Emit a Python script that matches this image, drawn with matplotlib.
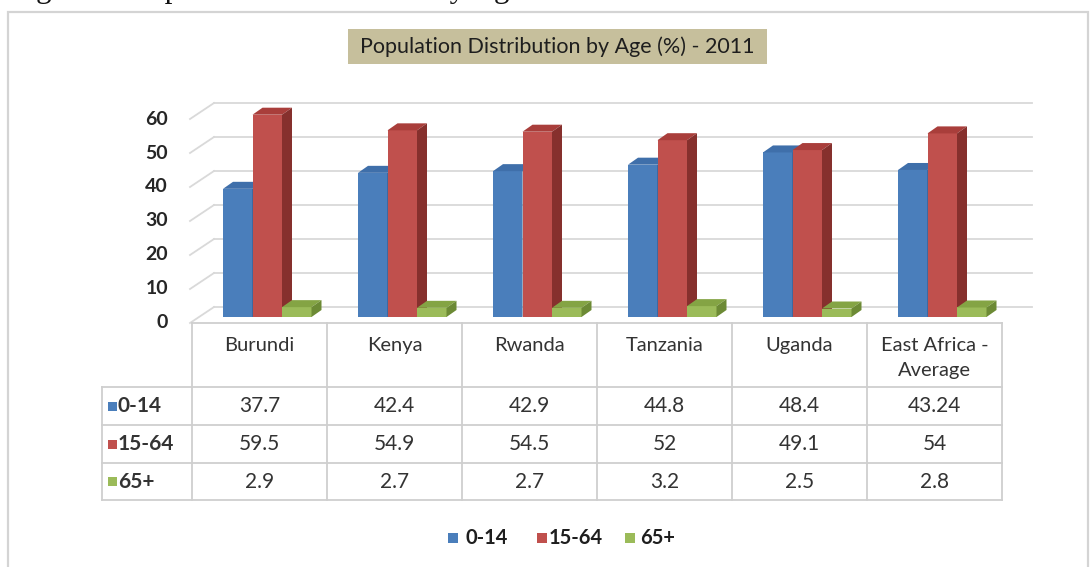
import matplotlib.pyplot as plt
from matplotlib.patches import Polygon, Rectangle

# data
countries = ['Burundi', 'Kenya', 'Rwanda', 'Tanzania', 'Uganda', 'East Africa -\nAverage']
groups = ['0-14', '15-64', '65+']
age_0_14 = [37.7, 42.4, 42.9, 44.8, 48.4, 43.24]
age_15_64 = [59.5, 54.9, 54.5, 52, 49.1, 54]
age_65 = [2.9, 2.7, 2.7, 3.2, 2.5, 2.8]
cell_text = [['37.7', '42.4', '42.9', '44.8', '48.4', '43.24'],
             ['59.5', '54.9', '54.5', '52', '49.1', '54'],
             ['2.9', '2.7', '2.7', '3.2', '2.5', '2.8']]
yticks = [0, 10, 20, 30, 40, 50, 60]

series = [age_0_14, age_15_64, age_65]
# front, top, side
face_colors = [('#4A7EBB', '#3F6FAA', '#2F5688'),
               ('#C0504D', '#A93E3B', '#86302D'),
               ('#9BBB59', '#84A444', '#6C8A35')]

W, H = 1091, 567
fig = plt.figure(figsize=(W / 100, H / 100), dpi=100)
plt.rcParams['font.family'] = ['Lato', 'DejaVu Sans']


def fx(x):
    return x / W


def fy(y):
    return 1 - y / H


# frame around the chart
fig.patches.append(Rectangle((fx(8), fy(620)), fx(1080), (620 - 12) / H,
                             transform=fig.transFigure, fill=False,
                             edgecolor='#D4D4D4', lw=1.6))

# caption of the page above, mostly cut off at the top edge
fig.text(fx(10), fy(-2.5), 'Figure 1: Population Distribution by Age',
         family=['Liberation Serif', 'DejaVu Serif'], fontsize=22.5,
         va='baseline', ha='left', color='#111111')

# title box
fig.patches.append(Rectangle((fx(348), fy(64)), fx(767 - 348), 35 / H,
                             transform=fig.transFigure, facecolor='#C6BF9C',
                             edgecolor='none'))
fig.text(fx(557), fy(46.5), 'Population Distribution by Age (%) - 2011',
         fontsize=15.5, ha='center', va='center', color='#1E1E1E')

# main plot axes: x in category columns, y in percent
PX_X, PX_Y = 135.0, 3.4
ax = fig.add_axes([fx(192), fy(323), 810 / W, 233 / H])
ax.set_xlim(0, 6)
ax.set_ylim(0, 233 / PX_Y)
ax.set_axis_off()


def dx(p):
    return p / PX_X


def dy(p):
    return p / PX_Y


wall_dx, wall_dy = 24, 16
grid_c = '#D9D9D9'
for v in yticks:
    yb = v + dy(wall_dy)
    ax.plot([dx(-2), dx(-2 + wall_dx)], [v, yb], color=grid_c, lw=1.3,
            clip_on=False, zorder=1)
    ax.plot([dx(-2 + wall_dx), 6 + dx(30)], [yb, yb], color=grid_c, lw=1.3,
            clip_on=False, zorder=1)
    ax.text(dx(-24), v, str(v), ha='right', va='center', fontsize=14,
            fontweight='bold', color='#262626')

# 3D-looking bars
bw, bdx, bdy = 29.5, 10, 7
base = dy(6)
z = 2
for i in range(len(countries)):
    for j, vals in enumerate(series):
        x0 = i + dx(31 + bw * j)
        x1 = x0 + dx(bw)
        top = base + vals[i]
        front, topc, side = face_colors[j]
        ax.add_patch(Rectangle((x0, base), dx(bw), vals[i], facecolor=front,
                               edgecolor='none', clip_on=False, zorder=z))
        ax.add_patch(Polygon([(x0, top), (x1, top), (x1 + dx(bdx), top + dy(bdy)),
                              (x0 + dx(bdx), top + dy(bdy))], closed=True,
                             facecolor=topc, edgecolor='none', clip_on=False, zorder=z))
        ax.add_patch(Polygon([(x1, base), (x1 + dx(bdx), base + dy(bdy)),
                              (x1 + dx(bdx), top + dy(bdy)), (x1, top)], closed=True,
                             facecolor=side, edgecolor='none', clip_on=False, zorder=z))
        z += 1

# data table
line_c = '#CFCFCF'
col_x = [192 + 135 * k for k in range(7)]
row_y = [323, 387, 425, 463, 500]
fig.lines.append(plt.Line2D([fx(192), fx(1002)], [fy(323), fy(323)],
                            transform=fig.transFigure, color=line_c, lw=1.3))
for yy in row_y[1:]:
    fig.lines.append(plt.Line2D([fx(102), fx(1002)], [fy(yy), fy(yy)],
                                transform=fig.transFigure, color=line_c, lw=1.3))
for xx in col_x:
    fig.lines.append(plt.Line2D([fx(xx), fx(xx)], [fy(323), fy(500)],
                                transform=fig.transFigure, color=line_c, lw=1.3))
fig.lines.append(plt.Line2D([fx(102), fx(102)], [fy(387), fy(500)],
                            transform=fig.transFigure, color=line_c, lw=1.3))

for k, name in enumerate(countries):
    fig.text(fx(col_x[k] + 67.5), fy(337), name, ha='center', va='top',
             fontsize=14.5, color='#333333', linespacing=1.6)
for r, row in enumerate(cell_text):
    yc = (row_y[r + 1] + row_y[r + 2]) / 2
    fig.patches.append(Rectangle((fx(108), fy(yc + 4.5)), fx(9), 9 / H,
                                 transform=fig.transFigure,
                                 facecolor=face_colors[r][0], edgecolor='none'))
    fig.text(fx(118), fy(yc), groups[r], ha='left', va='center',
             fontsize=15, fontweight='bold', color='#333333')
    for k, val in enumerate(row):
        fig.text(fx(col_x[k] + 67.5), fy(yc), val, ha='center', va='center',
                 fontsize=15, color='#333333')

# bottom legend
leg_sq = [448, 537, 625]
leg_tx = [465, 549, 640]
for j in range(3):
    fig.patches.append(Rectangle((fx(leg_sq[j]), fy(543)), fx(10), 10 / H,
                                 transform=fig.transFigure,
                                 facecolor=face_colors[j][0], edgecolor='none'))
    fig.text(fx(leg_tx[j]), fy(538), groups[j], ha='left', va='center',
             fontsize=14.5, fontweight='bold', color='#1E1E1E')

fig.savefig('out.png', dpi=100)
